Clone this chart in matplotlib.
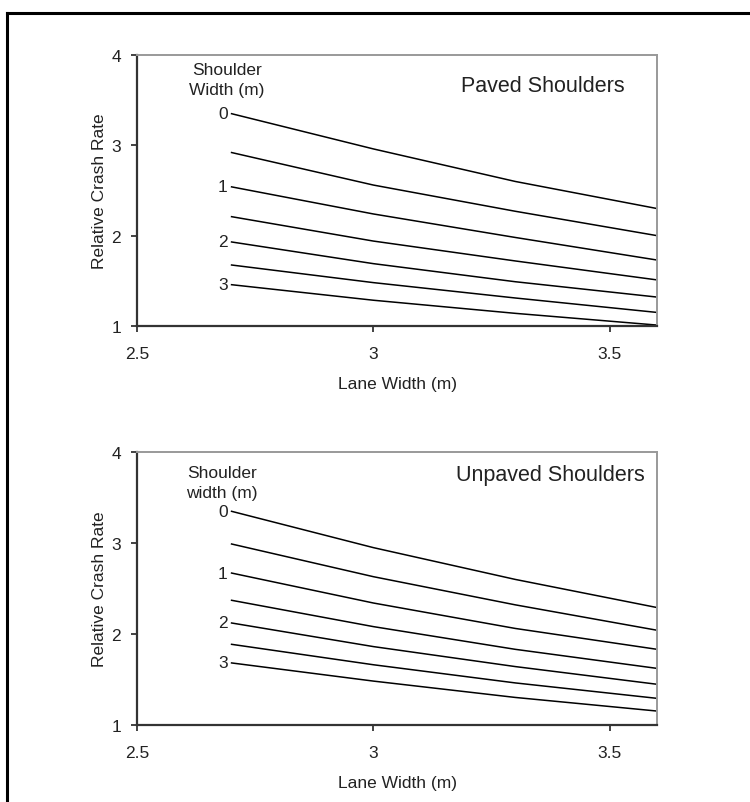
import matplotlib
matplotlib.use("Agg")
import matplotlib.pyplot as plt
from matplotlib.lines import Line2D

plt.rcParams['font.family'] = ['Liberation Sans', 'DejaVu Sans']

lane_width = [2.7, 3.0, 3.3, 3.6]

paved = [
    [3.35, 2.96, 2.60, 2.30],
    [2.92, 2.56, 2.27, 2.00],
    [2.54, 2.24, 1.98, 1.73],
    [2.21, 1.94, 1.72, 1.51],
    [1.93, 1.69, 1.49, 1.32],
    [1.675, 1.48, 1.31, 1.15],
    [1.457, 1.285, 1.14, 1.01],
]
unpaved = [
    [3.35, 2.95, 2.60, 2.29],
    [2.99, 2.63, 2.32, 2.04],
    [2.67, 2.34, 2.06, 1.83],
    [2.37, 2.08, 1.83, 1.62],
    [2.12, 1.86, 1.64, 1.445],
    [1.885, 1.66, 1.46, 1.29],
    [1.68, 1.48, 1.30, 1.15],
]
# shoulder width label -> index of curve it marks
shoulder_labels = {"0": 0, "1": 2, "2": 4, "3": 6}

panels = [
    dict(data=paved, title="Paved Shoulders", sw="Shoulder\nWidth (m)",
         rect=[0.1827, 0.5928, 0.6933, 0.3375], tx=3.358, ty=3.657, sx=2.69, sy=3.725),
    dict(data=unpaved, title="Unpaved Shoulders", sw="Shoulder\nwidth (m)",
         rect=[0.1827, 0.0963, 0.6933, 0.3392], tx=3.375, ty=3.75, sx=2.68, sy=3.665),
]

FS = 12.5
fig = plt.figure(figsize=(7.5, 8.03), dpi=100)

for p in panels:
    ax = fig.add_axes(p['rect'])
    data = p['data']
    for series in data:
        ax.plot(lane_width, series, color='black', lw=1.1)
    for lab, idx in shoulder_labels.items():
        ax.text(2.692, data[idx][0], lab, ha='right', va='center', fontsize=FS, color='#222222')
    ax.text(p['sx'], p['sy'], p['sw'], ha='center', va='center', fontsize=FS,
            linespacing=1.4, color='#222222')
    ax.text(p['tx'], p['ty'], p['title'], ha='center', va='center', fontsize=15.5, color='#222222')
    ax.set_xlim(2.5, 3.6)
    ax.set_ylim(1, 4)
    ax.set_xticks([2.5, 3.0, 3.5])
    ax.set_xticklabels(["2.5", "3", "3.5"])
    ax.set_yticks([1, 2, 3, 4])
    ax.set_yticklabels(["1", "2", "3", "4"])
    ax.tick_params(direction='out', length=4.5, width=1.2, colors='#222222', labelsize=FS)
    ax.tick_params(axis='x', pad=10)
    ax.tick_params(axis='y', pad=7)
    for s in ['left', 'bottom']:
        ax.spines[s].set_color('#333333')
        ax.spines[s].set_linewidth(1.6)
    for s in ['top', 'right']:
        ax.spines[s].set_color('#999999')
        ax.spines[s].set_linewidth(1.4)
    ax.set_xlabel("Lane Width (m)", fontsize=FS, labelpad=11, color='#222222')
    ax.set_ylabel("Relative Crash Rate", fontsize=FS, labelpad=3, color='#222222')

# outer frame (top and left edges visible)
fig.add_artist(Line2D([7/750, 7/750], [0, 1 - 14/803], transform=fig.transFigure,
                      color='black', lw=2.2))
fig.add_artist(Line2D([7/750, 1], [1 - 14/803, 1 - 14/803], transform=fig.transFigure,
                      color='black', lw=2.2))

fig.savefig("out.png", dpi=100)
